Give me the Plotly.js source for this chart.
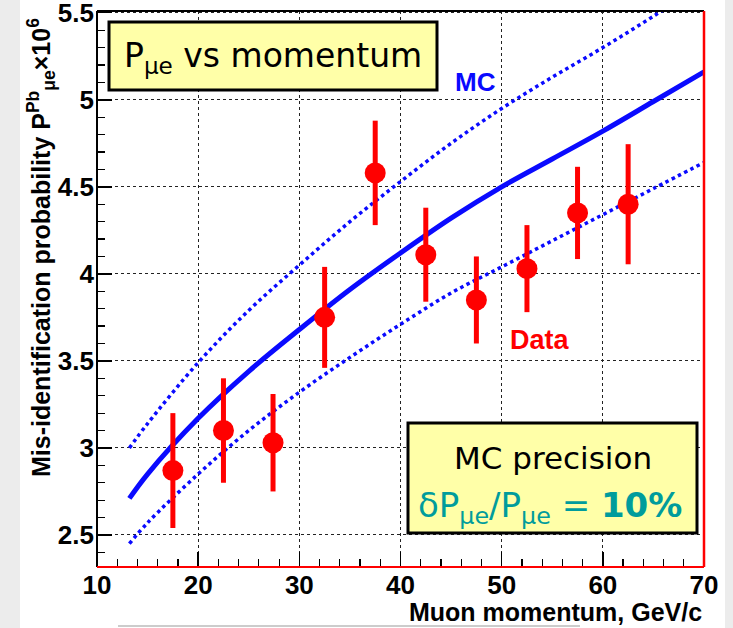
<!DOCTYPE html>
<html>
<head>
<meta charset="utf-8">
<script src="https://cdn.plot.ly/plotly-3.0.1.min.js"></script>
<style>html,body{margin:0;padding:0;background:#ececec;}#chart{width:733px;height:628px;}</style>
</head>
<body>
<div id="chart"></div>
<script>
// Data points (red)
const dataMomentum = [17.5, 22.5, 27.4, 32.5, 37.5, 42.5, 47.5, 52.5, 57.5, 62.5];
const dataProb     = [2.87, 3.10, 3.03, 3.75, 4.58, 4.11, 3.85, 4.03, 4.35, 4.40];
const dataErr      = [0.33, 0.30, 0.28, 0.29, 0.30, 0.27, 0.25, 0.25, 0.265, 0.345];

// MC curve and its ±10% band
const mcMomentum = [13.2, 15, 20, 25, 30, 35, 40, 45, 50, 55, 60, 65, 70];
const mcCentral  = [2.71, 2.85, 3.17, 3.44, 3.68, 3.91, 4.12, 4.32, 4.50, 4.66, 4.82, 4.99, 5.16];
const mcUpper    = [3.00, 3.14, 3.49, 3.79, 4.05, 4.30, 4.53, 4.75, 4.95, 5.13, 5.30, 5.48, 5.67];
const mcLower    = [2.45, 2.57, 2.85, 3.10, 3.32, 3.52, 3.71, 3.89, 4.04, 4.19, 4.34, 4.49, 4.64];

const xTicks = [10, 20, 30, 40, 50, 60, 70];
const yTicks = [2.5, 3, 3.5, 4, 4.5, 5, 5.5];

const blue = '#0a0aff';
const traces = [
  {x: mcMomentum, y: mcUpper, mode: 'lines', line: {color: blue, width: 3.5, dash: 'dot', shape: 'spline'}, hoverinfo: 'skip'},
  {x: mcMomentum, y: mcLower, mode: 'lines', line: {color: blue, width: 3.5, dash: 'dot', shape: 'spline'}, hoverinfo: 'skip'},
  {x: mcMomentum, y: mcCentral, mode: 'lines', line: {color: blue, width: 5, shape: 'spline'}, hoverinfo: 'skip'},
  {x: dataMomentum, y: dataProb, mode: 'markers',
   marker: {color: '#ff0000', size: 21},
   error_y: {type: 'data', array: dataErr, visible: true, color: '#ff0000', thickness: 5, width: 0}}
];

const PL = 97, PR = 704, PT = 11, PB = 567;
const px = v => (v - PL) / (PR - PL);
const py = v => (PB - v) / (PB - PT);

const sans = 'Liberation Sans, Arial, sans-serif';
const axisFont = {family: sans, size: 26, color: '#000', weight: 'bold'};
const boxFont = 'DejaVu Sans, sans-serif';

function note(x, y, text, font, extra) {
  return Object.assign({xref: 'paper', yref: 'paper', x: px(x), y: py(y), xanchor: 'center', yanchor: 'middle',
    showarrow: false, text: text, font: font}, extra || {});
}

const layout = {
  width: 733, height: 628,
  margin: {l: PL, r: 733 - PR, t: PT, b: 628 - PB},
  paper_bgcolor: '#ffffff', plot_bgcolor: '#ffffff',
  showlegend: false,
  xaxis: {
    range: [10, 70], tickvals: xTicks, ticktext: xTicks.map(String),
    ticks: 'inside', ticklen: 15, tickwidth: 1.5, tickcolor: '#000',
    minor: {dtick: 2, ticks: 'inside', ticklen: 8, tickwidth: 1.2, tickcolor: '#000', showgrid: false},
    showgrid: true, gridcolor: '#222', griddash: 'dot', gridwidth: 1,
    zeroline: false, showline: false,
    tickfont: axisFont, ticklabelstandoff: 0, ticklabeloverflow: 'allow'
  },
  yaxis: {
    range: [2.316, 5.51], tickvals: yTicks, ticktext: yTicks.map(String),
    ticks: 'inside', ticklen: 15, tickwidth: 1.5, tickcolor: '#000',
    minor: {dtick: 0.1, ticks: 'inside', ticklen: 8, tickwidth: 1.2, tickcolor: '#000', showgrid: false},
    showgrid: true, gridcolor: '#222', griddash: 'dot', gridwidth: 1,
    zeroline: false, showline: false,
    tickfont: axisFont, ticklabelstandoff: 2, ticklabeloverflow: 'allow'
  },
  shapes: [
    // grey page edges
    {type: 'rect', xref: 'paper', yref: 'paper', x0: px(0), x1: px(20), y0: py(0), y1: py(628), fillcolor: '#ececec', line: {width: 0}, layer: 'below'},
    {type: 'rect', xref: 'paper', yref: 'paper', x0: px(725), x1: px(733), y0: py(0), y1: py(628), fillcolor: '#ececec', line: {width: 0}, layer: 'below'},
    {type: 'line', xref: 'paper', yref: 'paper', x0: px(118), x1: px(580), y0: py(626), y1: py(626), line: {color: '#cccccc', width: 2}},
    // frame
    {type: 'line', xref: 'paper', yref: 'paper', x0: 0, x1: 0, y0: 0, y1: 1, line: {color: '#000', width: 2}},
    {type: 'line', xref: 'paper', yref: 'paper', x0: 0, x1: 1, y0: 1, y1: 1, line: {color: '#000', width: 2}},
    {type: 'line', xref: 'paper', yref: 'paper', x0: 0, x1: 1, y0: 0, y1: 0, line: {color: '#ff0000', width: 2}},
    {type: 'line', xref: 'paper', yref: 'paper', x0: 1, x1: 1, y0: 0, y1: 1, line: {color: '#ff0000', width: 2.5}},
    // text boxes
    {type: 'rect', xref: 'paper', yref: 'paper', x0: px(109), x1: px(437), y0: py(90), y1: py(22), fillcolor: '#ffffa8', line: {color: '#000', width: 3}},
    {type: 'rect', xref: 'paper', yref: 'paper', x0: px(408), x1: px(697), y0: py(533), y1: py(423), fillcolor: '#ffffa8', line: {color: '#000', width: 3}}
  ],
  annotations: [
    note(41, 248, 'Mis-identification probability P<sup>Pb</sup><sub>μe</sub>×10<sup>6</sup>',
      {family: sans, size: 25, color: '#000', weight: 'bold'}, {textangle: -90}),
    note(704, 612, 'Muon momentum, GeV/c', {family: sans, size: 25, color: '#000', weight: 'bold'}, {xanchor: 'right'}),
    note(273, 57, 'P<sub>μe</sub> vs momentum', {family: boxFont, size: 33, color: '#000'}),
    note(553, 458, 'MC precision', {family: boxFont, size: 31, color: '#000'}),
    note(550, 507, 'δP<sub>μe</sub>/P<sub>μe</sub> = <b>10%</b>', {family: boxFont, size: 34, color: '#009c9c'}),
    {xref: 'x', yref: 'y', x: 47.4, y: 5.1, xanchor: 'center', yanchor: 'middle', showarrow: false,
     text: '<b>MC</b>', font: {family: sans, size: 26, color: blue}},
    {xref: 'x', yref: 'y', x: 53.8, y: 3.62, xanchor: 'center', yanchor: 'middle', showarrow: false,
     text: '<b>Data</b>', font: {family: sans, size: 27, color: '#ff0000'}}
  ]
};

Plotly.newPlot('chart', traces, layout, {displayModeBar: false, staticPlot: true});
</script>
</body>
</html>
